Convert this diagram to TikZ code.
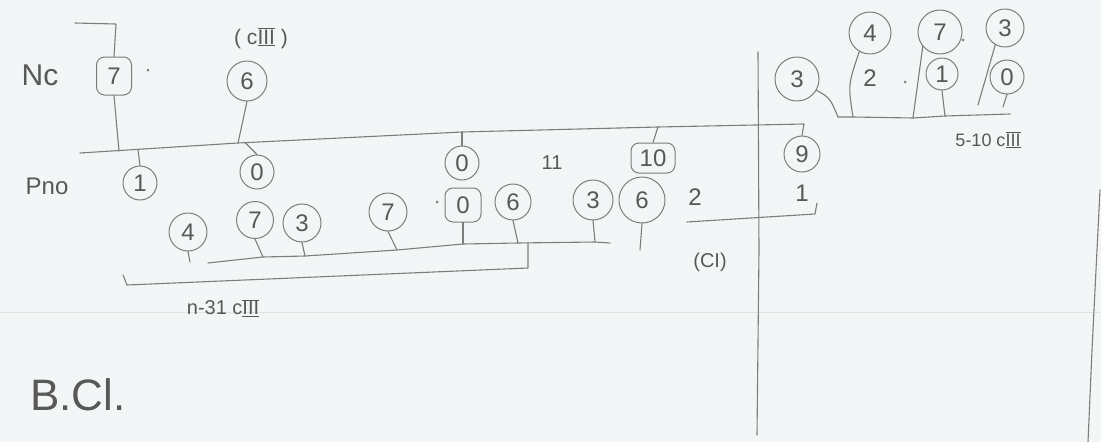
\documentclass[tikz,border=0pt]{standalone}
\usepackage{fontspec}
\setmainfont{Liberation Sans}
\usetikzlibrary{positioning}
\definecolor{pencil}{RGB}{88,88,88}
\definecolor{lead}{RGB}{125,125,125}
\definecolor{paper}{RGB}{243,246,246}
\newcommand{\romIII}{\ensuremath{\overline{\underline{\textrm{III}}}}}
\newcommand{\fs}[1]{\fontsize{#1}{#1}\selectfont}

\begin{document}
\begin{tikzpicture}[x=1pt,y=-1pt,line width=1.1pt,color=lead,line cap=round,line join=round,
  every node/.style={font=\fs{24},text=pencil},
  num/.style={circle,draw,line width=1pt,inner sep=0pt,minimum size=#1},
  num/.default=36,
  rbox/.style={rounded corners=8pt,draw,line width=1pt,inner sep=0pt,minimum width=#1,minimum height=32}]
\fill[paper] (0,0) rectangle (1101,442);
\useasboundingbox (0,0) rectangle (1101,442);
\draw[lead!22,line width=.6pt] (0,312) -- (1101,312);
% labels
\node[font=\fs{30}] (nc) at (40,75) {Nc};
\node[font=\fs{24}] (pno) at (47,186) {Pno};
\node[font=\fs{21}] (cthree) at (261,38) {( c\romIII\ )};
\node[font=\fs{20}] (eleven) at (552,163) {11};
\node[font=\fs{20},anchor=west] (nthree) at (183,308) {n-31 c\romIII};
\node[font=\fs{18}] (fivec) at (988,140) {5-10 c\romIII};
\node[font=\fs{20}] (ci) at (710,262) {(CI)};
\node[font=\fs{44}] (bcl) at (78,395) {B.Cl.};
% upper row
\node[rbox=35,minimum height=38] (nc7) at (114,76) {7};
\node[num=40] (nc6) at (247,81) {6};
\node[num=34] (p1) at (140,183) {1};
\node[num=34] (p0a) at (257,172) {0};
\node[num=34] (p0b) at (462,163) {0};
\node[rbox=44,minimum height=30] (p10) at (653,158) {10};
\node[num=36] (p9) at (802,154) {9};
% lower row
\node[num=38] (q4) at (188,232) {4};
\node[num=37] (q7a) at (255,220) {7};
\node[num=38] (q3a) at (302,223) {3};
\node[num=38] (q7b) at (388,212) {7};
\node[rbox=36,minimum height=34] (q0) at (463,205) {0};
\node[num=36] (q6a) at (513,202) {6};
\node[num=40] (q3b) at (593,200) {3};
\node[num=46] (q6b) at (642,200) {6};
\node (q2) at (695,197) {2};
\node (q1) at (802,193) {1};
% top right
\node[num=42] (t4) at (870,33) {4};
\node[num=44] (t7) at (940,32) {7};
\node[num=38] (t3) at (1005,28) {3};
\node[num=44] (s3) at (797,79) {3};
\node (s2) at (870,78) {2};
\node[num=32] (s1) at (942,74) {1};
\node[num=34] (s0) at (1007,77) {0};
\fill (148,70) circle (1.5pt);
\fill (437,202) circle (1.5pt);
\fill (963,40) circle (1.5pt);
\fill (905,82) circle (1.5pt);
% main line
\coordinate (hk) at (75,23);
\coordinate (mL) at (80,153);
\coordinate (j7) at (119,151);
\coordinate (j1) at (138,150);
\coordinate (j6) at (238,143);
\coordinate (j0a) at (245,142.5);
\coordinate (j0b) at (462,132);
\coordinate (j10) at (658,127);
\coordinate (mR) at (804,124);
\draw (hk) -- (116,24) -- (nc7.north);
\draw (mL) -- (j6) -- (j0b) -- (j10) -- (mR) -- (p9.north);
\draw (nc7.south) -- (j7);
\draw (nc6.south) -- (j6);
\draw (j1) -- (p1.north);
\draw (j0a) -- (p0a.north);
\draw (j0b) -- (p0b.north);
\draw (j10) -- (p10.north);
% lower lines
\coordinate (aL) at (208,263);
\coordinate (a7a) at (263,257);
\coordinate (a3a) at (305,256);
\coordinate (a7b) at (397,250);
\coordinate (a0) at (463,244);
\coordinate (a6a) at (518,243);
\coordinate (ab) at (528,243);
\coordinate (a3b) at (595,242);
\coordinate (aR) at (610,243);
\draw (aL) -- (a7a) -- (a3a) -- (a7b) -- (a0) -- (a6a) -- (a3b) -- (aR);
\draw (q7a.south) -- (a7a);
\draw (q3a.south) -- (a3a);
\draw (q7b.south) -- (a7b);
\draw (q0.south) -- (a0);
\draw (q6a.south) -- (a6a);
\draw (q3b.south) -- (a3b);
\coordinate (q4t) at (190,262);
\coordinate (q6t) at (640,250);
\draw (q4.south) -- (q4t);
\draw (q6b.south) -- (q6t);
\coordinate (bL) at (123,275);
\coordinate (bC) at (127,285);
\coordinate (bR) at (528,268);
\draw (bL) -- (bC) -- (bR) -- (ab);
\coordinate (c1) at (687,222);
\coordinate (c2) at (815,214);
\coordinate (c3) at (817,203);
\draw (c1) -- (c2) -- (c3);
% dividers
\draw (758,52) -- (759,250) -- (757,435);
\draw (1100,190) -- (1097,250) -- (1092,350) -- (1088,442);
% top right lines
\coordinate (e3) at (838,117);
\coordinate (e4) at (853,117);
\coordinate (e7) at (913,118);
\coordinate (e1) at (945,116);
\coordinate (eR) at (1010,114);
\coordinate (t3e) at (978,105);
\coordinate (s0e) at (1003,107);
\draw (e3) -- (e4) -- (e7) -- (e1) -- (eR);
\draw (s3.-30) .. controls (830,98) .. (e3);
\draw (t4.-120) .. controls (848,85) .. (e4);
\draw (t7.-140) -- (e7);
\draw (s1.south) -- (e1);
\draw (t3.-120) -- (t3e);
\draw (s0.south) -- (s0e);
\end{tikzpicture}
\end{document}
